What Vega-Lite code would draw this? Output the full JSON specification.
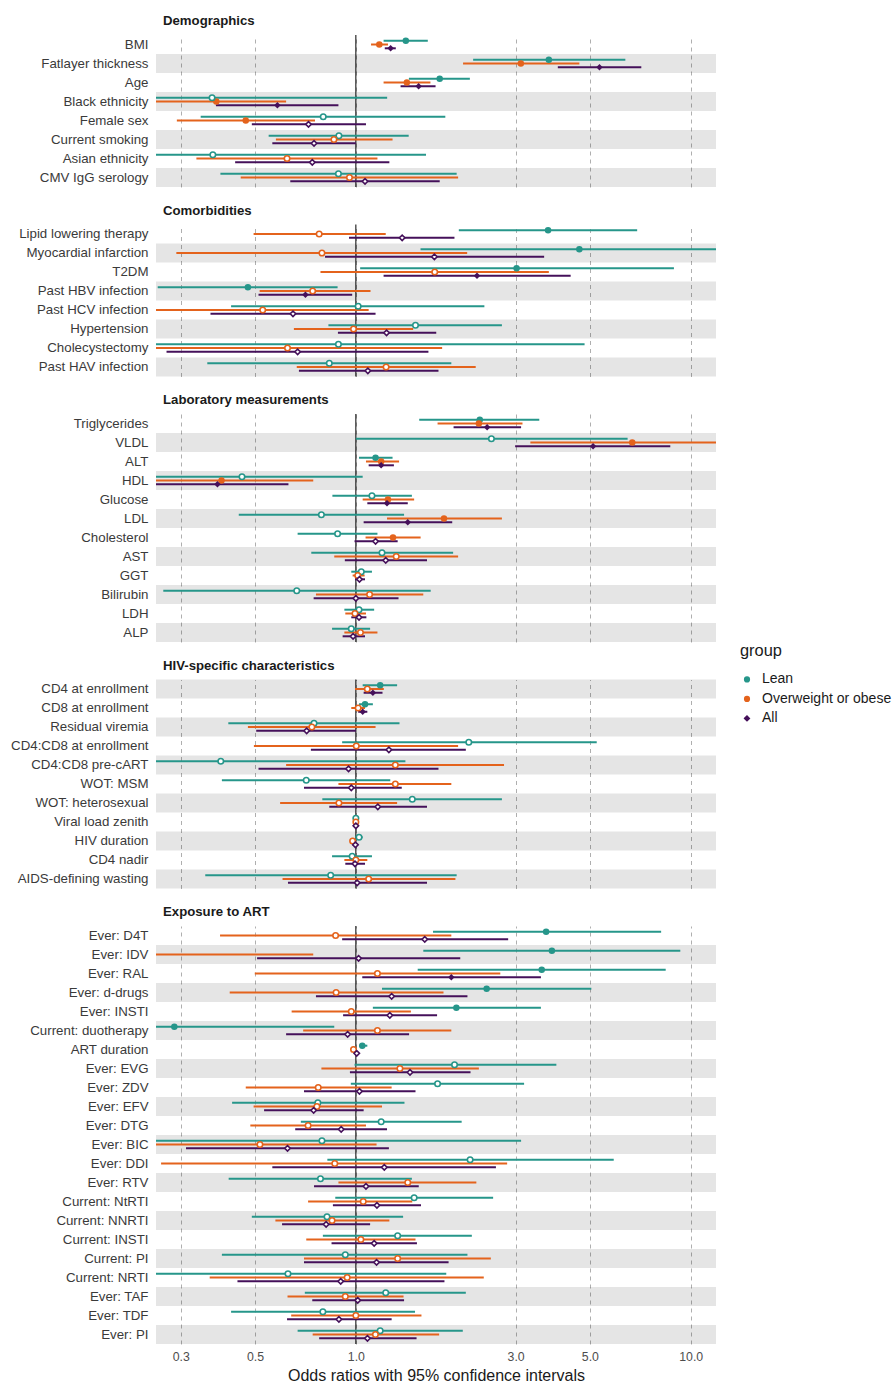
{
"$schema":"https://vega.github.io/schema/vega-lite/v6.json",
"padding":{"left":10,"top":14,"right":0,"bottom":2},
"background":"white",
"datasets":{"d":[
{"s":"Dem","v":"BMI","g":"Lean","or":1.41,"lo":1.21,"hi":1.64,"sig":true},
{"s":"Dem","v":"BMI","g":"Overweight or obese","or":1.175,"lo":1.11,"hi":1.247,"sig":true},
{"s":"Dem","v":"BMI","g":"All","or":1.27,"lo":1.22,"hi":1.316,"sig":true},
{"s":"Dem","v":"Fatlayer thickness","g":"Lean","or":3.77,"lo":2.24,"hi":6.38,"sig":true},
{"s":"Dem","v":"Fatlayer thickness","g":"Overweight or obese","or":3.11,"lo":2.09,"hi":4.65,"sig":true},
{"s":"Dem","v":"Fatlayer thickness","g":"All","or":5.34,"lo":4.01,"hi":7.12,"sig":true},
{"s":"Dem","v":"Age","g":"Lean","or":1.78,"lo":1.44,"hi":2.19,"sig":true},
{"s":"Dem","v":"Age","g":"Overweight or obese","or":1.42,"lo":1.21,"hi":1.67,"sig":true},
{"s":"Dem","v":"Age","g":"All","or":1.54,"lo":1.36,"hi":1.73,"sig":true},
{"s":"Dem","v":"Black ethnicity","g":"Lean","or":0.372,"lo":0.2,"hi":1.24,"sig":false},
{"s":"Dem","v":"Black ethnicity","g":"Overweight or obese","or":0.383,"lo":0.2,"hi":0.619,"sig":true},
{"s":"Dem","v":"Black ethnicity","g":"All","or":0.583,"lo":0.382,"hi":0.887,"sig":true},
{"s":"Dem","v":"Female sex","g":"Lean","or":0.799,"lo":0.344,"hi":1.85,"sig":false},
{"s":"Dem","v":"Female sex","g":"Overweight or obese","or":0.469,"lo":0.292,"hi":0.755,"sig":true},
{"s":"Dem","v":"Female sex","g":"All","or":0.722,"lo":0.489,"hi":1.072,"sig":false},
{"s":"Dem","v":"Current smoking","g":"Lean","or":0.89,"lo":0.549,"hi":1.438,"sig":false},
{"s":"Dem","v":"Current smoking","g":"Overweight or obese","or":0.86,"lo":0.577,"hi":1.287,"sig":false},
{"s":"Dem","v":"Current smoking","g":"All","or":0.75,"lo":0.563,"hi":1.0,"sig":false},
{"s":"Dem","v":"Asian ethnicity","g":"Lean","or":0.374,"lo":0.2,"hi":1.62,"sig":false},
{"s":"Dem","v":"Asian ethnicity","g":"Overweight or obese","or":0.623,"lo":0.334,"hi":1.16,"sig":false},
{"s":"Dem","v":"Asian ethnicity","g":"All","or":0.741,"lo":0.436,"hi":1.259,"sig":false},
{"s":"Dem","v":"CMV IgG serology","g":"Lean","or":0.887,"lo":0.394,"hi":2.0,"sig":false},
{"s":"Dem","v":"CMV IgG serology","g":"Overweight or obese","or":0.957,"lo":0.453,"hi":2.02,"sig":false},
{"s":"Dem","v":"CMV IgG serology","g":"All","or":1.065,"lo":0.637,"hi":1.78,"sig":false},
{"s":"Com","v":"Lipid lowering therapy","g":"Lean","or":3.75,"lo":2.03,"hi":6.92,"sig":true},
{"s":"Com","v":"Lipid lowering therapy","g":"Overweight or obese","or":0.777,"lo":0.495,"hi":1.228,"sig":false},
{"s":"Com","v":"Lipid lowering therapy","g":"All","or":1.375,"lo":0.954,"hi":1.97,"sig":false},
{"s":"Com","v":"Myocardial infarction","g":"Lean","or":4.65,"lo":1.56,"hi":15,"sig":true},
{"s":"Com","v":"Myocardial infarction","g":"Overweight or obese","or":0.792,"lo":0.291,"hi":2.15,"sig":false},
{"s":"Com","v":"Myocardial infarction","g":"All","or":1.716,"lo":0.809,"hi":3.65,"sig":false},
{"s":"Com","v":"T2DM","g":"Lean","or":3.02,"lo":1.03,"hi":8.91,"sig":true},
{"s":"Com","v":"T2DM","g":"Overweight or obese","or":1.72,"lo":0.784,"hi":3.77,"sig":false},
{"s":"Com","v":"T2DM","g":"All","or":2.3,"lo":1.21,"hi":4.38,"sig":true},
{"s":"Com","v":"Past HBV infection","g":"Lean","or":0.476,"lo":0.256,"hi":0.882,"sig":true},
{"s":"Com","v":"Past HBV infection","g":"Overweight or obese","or":0.743,"lo":0.516,"hi":1.106,"sig":false},
{"s":"Com","v":"Past HBV infection","g":"All","or":0.707,"lo":0.512,"hi":0.975,"sig":true},
{"s":"Com","v":"Past HCV infection","g":"Lean","or":1.016,"lo":0.424,"hi":2.42,"sig":false},
{"s":"Com","v":"Past HCV infection","g":"Overweight or obese","or":0.527,"lo":0.2,"hi":1.092,"sig":false},
{"s":"Com","v":"Past HCV infection","g":"All","or":0.649,"lo":0.368,"hi":1.145,"sig":false},
{"s":"Com","v":"Hypertension","g":"Lean","or":1.507,"lo":0.828,"hi":2.73,"sig":false},
{"s":"Com","v":"Hypertension","g":"Overweight or obese","or":0.984,"lo":0.653,"hi":1.483,"sig":false},
{"s":"Com","v":"Hypertension","g":"All","or":1.235,"lo":0.884,"hi":1.738,"sig":false},
{"s":"Com","v":"Cholecystectomy","g":"Lean","or":0.887,"lo":0.2,"hi":4.82,"sig":false},
{"s":"Com","v":"Cholecystectomy","g":"Overweight or obese","or":0.625,"lo":0.2,"hi":1.81,"sig":false},
{"s":"Com","v":"Cholecystectomy","g":"All","or":0.67,"lo":0.272,"hi":1.647,"sig":false},
{"s":"Com","v":"Past HAV infection","g":"Lean","or":0.833,"lo":0.36,"hi":1.928,"sig":false},
{"s":"Com","v":"Past HAV infection","g":"Overweight or obese","or":1.231,"lo":0.666,"hi":2.28,"sig":false},
{"s":"Com","v":"Past HAV infection","g":"All","or":1.086,"lo":0.676,"hi":1.765,"sig":false},
{"s":"Lab","v":"Triglycerides","g":"Lean","or":2.345,"lo":1.546,"hi":3.53,"sig":true},
{"s":"Lab","v":"Triglycerides","g":"Overweight or obese","or":2.33,"lo":1.754,"hi":3.145,"sig":true},
{"s":"Lab","v":"Triglycerides","g":"All","or":2.466,"lo":1.958,"hi":3.115,"sig":true},
{"s":"Lab","v":"VLDL","g":"Lean","or":2.54,"lo":1.0,"hi":6.48,"sig":false},
{"s":"Lab","v":"VLDL","g":"Overweight or obese","or":6.69,"lo":3.32,"hi":15,"sig":true},
{"s":"Lab","v":"VLDL","g":"All","or":5.11,"lo":2.99,"hi":8.69,"sig":true},
{"s":"Lab","v":"ALT","g":"Lean","or":1.145,"lo":1.022,"hi":1.287,"sig":true},
{"s":"Lab","v":"ALT","g":"Overweight or obese","or":1.19,"lo":1.072,"hi":1.346,"sig":true},
{"s":"Lab","v":"ALT","g":"All","or":1.19,"lo":1.092,"hi":1.299,"sig":true},
{"s":"Lab","v":"HDL","g":"Lean","or":0.457,"lo":0.2,"hi":1.048,"sig":false},
{"s":"Lab","v":"HDL","g":"Overweight or obese","or":0.397,"lo":0.2,"hi":0.746,"sig":true},
{"s":"Lab","v":"HDL","g":"All","or":0.386,"lo":0.2,"hi":0.629,"sig":true},
{"s":"Lab","v":"Glucose","g":"Lean","or":1.117,"lo":0.851,"hi":1.47,"sig":false},
{"s":"Lab","v":"Glucose","g":"Overweight or obese","or":1.247,"lo":1.048,"hi":1.493,"sig":true},
{"s":"Lab","v":"Glucose","g":"All","or":1.239,"lo":1.082,"hi":1.429,"sig":true},
{"s":"Lab","v":"LDL","g":"Lean","or":0.789,"lo":0.447,"hi":1.393,"sig":false},
{"s":"Lab","v":"LDL","g":"Overweight or obese","or":1.833,"lo":1.239,"hi":2.73,"sig":true},
{"s":"Lab","v":"LDL","g":"All","or":1.429,"lo":1.055,"hi":1.94,"sig":true},
{"s":"Lab","v":"Cholesterol","g":"Lean","or":0.882,"lo":0.67,"hi":1.16,"sig":false},
{"s":"Lab","v":"Cholesterol","g":"Overweight or obese","or":1.291,"lo":1.069,"hi":1.561,"sig":true},
{"s":"Lab","v":"Cholesterol","g":"All","or":1.145,"lo":0.991,"hi":1.333,"sig":false},
{"s":"Lab","v":"AST","g":"Lean","or":1.197,"lo":0.736,"hi":1.952,"sig":false},
{"s":"Lab","v":"AST","g":"Overweight or obese","or":1.32,"lo":0.862,"hi":2.02,"sig":false},
{"s":"Lab","v":"AST","g":"All","or":1.228,"lo":0.927,"hi":1.631,"sig":false},
{"s":"Lab","v":"GGT","g":"Lean","or":1.038,"lo":0.969,"hi":1.117,"sig":false},
{"s":"Lab","v":"GGT","g":"Overweight or obese","or":1.013,"lo":0.978,"hi":1.062,"sig":false},
{"s":"Lab","v":"GGT","g":"All","or":1.025,"lo":0.994,"hi":1.065,"sig":false},
{"s":"Lab","v":"Bilirubin","g":"Lean","or":0.666,"lo":0.266,"hi":1.673,"sig":false},
{"s":"Lab","v":"Bilirubin","g":"Overweight or obese","or":1.099,"lo":0.76,"hi":1.59,"sig":false},
{"s":"Lab","v":"Bilirubin","g":"All","or":1.0,"lo":0.748,"hi":1.341,"sig":false},
{"s":"Lab","v":"LDH","g":"Lean","or":1.022,"lo":0.924,"hi":1.134,"sig":false},
{"s":"Lab","v":"LDH","g":"Overweight or obese","or":0.994,"lo":0.93,"hi":1.072,"sig":false},
{"s":"Lab","v":"LDH","g":"All","or":1.022,"lo":0.969,"hi":1.075,"sig":false},
{"s":"Lab","v":"ALP","g":"Lean","or":0.969,"lo":0.849,"hi":1.103,"sig":false},
{"s":"Lab","v":"ALP","g":"Overweight or obese","or":1.032,"lo":0.924,"hi":1.16,"sig":false},
{"s":"Lab","v":"ALP","g":"All","or":0.981,"lo":0.913,"hi":1.065,"sig":false},
{"s":"HIV","v":"CD4 at enrollment","g":"Lean","or":1.182,"lo":1.048,"hi":1.328,"sig":true},
{"s":"HIV","v":"CD4 at enrollment","g":"Overweight or obese","or":1.082,"lo":0.994,"hi":1.212,"sig":false},
{"s":"HIV","v":"CD4 at enrollment","g":"All","or":1.124,"lo":1.055,"hi":1.201,"sig":true},
{"s":"HIV","v":"CD8 at enrollment","g":"Lean","or":1.065,"lo":1.022,"hi":1.124,"sig":true},
{"s":"HIV","v":"CD8 at enrollment","g":"Overweight or obese","or":1.016,"lo":0.969,"hi":1.065,"sig":false},
{"s":"HIV","v":"CD8 at enrollment","g":"All","or":1.048,"lo":1.016,"hi":1.082,"sig":true},
{"s":"HIV","v":"Residual viremia","g":"Lean","or":0.75,"lo":0.416,"hi":1.35,"sig":false},
{"s":"HIV","v":"Residual viremia","g":"Overweight or obese","or":0.739,"lo":0.476,"hi":1.145,"sig":false},
{"s":"HIV","v":"Residual viremia","g":"All","or":0.713,"lo":0.504,"hi":1.0,"sig":false},
{"s":"HIV","v":"CD4:CD8 at enrollment","g":"Lean","or":2.174,"lo":0.91,"hi":5.24,"sig":false},
{"s":"HIV","v":"CD4:CD8 at enrollment","g":"Overweight or obese","or":1.003,"lo":0.496,"hi":2.02,"sig":false},
{"s":"HIV","v":"CD4:CD8 at enrollment","g":"All","or":1.255,"lo":0.734,"hi":2.13,"sig":false},
{"s":"HIV","v":"CD4:CD8 pre-cART","g":"Lean","or":0.395,"lo":0.2,"hi":1.406,"sig":false},
{"s":"HIV","v":"CD4:CD8 pre-cART","g":"Overweight or obese","or":1.312,"lo":0.619,"hi":2.77,"sig":false},
{"s":"HIV","v":"CD4:CD8 pre-cART","g":"All","or":0.951,"lo":0.512,"hi":1.765,"sig":false},
{"s":"HIV","v":"WOT: MSM","g":"Lean","or":0.711,"lo":0.398,"hi":1.267,"sig":false},
{"s":"HIV","v":"WOT: MSM","g":"Overweight or obese","or":1.312,"lo":0.887,"hi":1.928,"sig":false},
{"s":"HIV","v":"WOT: MSM","g":"All","or":0.969,"lo":0.7,"hi":1.371,"sig":false},
{"s":"HIV","v":"WOT: heterosexual","g":"Lean","or":1.474,"lo":0.794,"hi":2.73,"sig":false},
{"s":"HIV","v":"WOT: heterosexual","g":"Overweight or obese","or":0.89,"lo":0.594,"hi":1.328,"sig":false},
{"s":"HIV","v":"WOT: heterosexual","g":"All","or":1.163,"lo":0.833,"hi":1.631,"sig":false},
{"s":"HIV","v":"Viral load zenith","g":"Lean","or":1.0,"lo":0.995,"hi":1.005,"sig":false},
{"s":"HIV","v":"Viral load zenith","g":"Overweight or obese","or":1.0,"lo":0.995,"hi":1.005,"sig":false},
{"s":"HIV","v":"Viral load zenith","g":"All","or":1.0,"lo":0.995,"hi":1.005,"sig":false},
{"s":"HIV","v":"HIV duration","g":"Lean","or":1.022,"lo":0.998,"hi":1.048,"sig":false},
{"s":"HIV","v":"HIV duration","g":"Overweight or obese","or":0.978,"lo":0.96,"hi":1.0,"sig":false},
{"s":"HIV","v":"HIV duration","g":"All","or":0.997,"lo":0.978,"hi":1.016,"sig":false},
{"s":"HIV","v":"CD4 nadir","g":"Lean","or":0.975,"lo":0.849,"hi":1.117,"sig":false},
{"s":"HIV","v":"CD4 nadir","g":"Overweight or obese","or":1.0,"lo":0.924,"hi":1.082,"sig":false},
{"s":"HIV","v":"CD4 nadir","g":"All","or":0.994,"lo":0.93,"hi":1.065,"sig":false},
{"s":"HIV","v":"AIDS-defining wasting","g":"Lean","or":0.841,"lo":0.355,"hi":2.0,"sig":false},
{"s":"HIV","v":"AIDS-defining wasting","g":"Overweight or obese","or":1.092,"lo":0.604,"hi":1.983,"sig":false},
{"s":"HIV","v":"AIDS-defining wasting","g":"All","or":1.009,"lo":0.627,"hi":1.631,"sig":false},
{"s":"ART","v":"Ever: D4T","g":"Lean","or":3.7,"lo":1.7,"hi":8.16,"sig":true},
{"s":"ART","v":"Ever: D4T","g":"Overweight or obese","or":0.87,"lo":0.393,"hi":1.928,"sig":false},
{"s":"ART","v":"Ever: D4T","g":"All","or":1.606,"lo":0.91,"hi":2.85,"sig":false},
{"s":"ART","v":"Ever: IDV","g":"Lean","or":3.85,"lo":1.59,"hi":9.31,"sig":true},
{"s":"ART","v":"Ever: IDV","g":"Overweight or obese","or":0.22,"lo":0.05,"hi":0.746,"sig":false},
{"s":"ART","v":"Ever: IDV","g":"All","or":1.019,"lo":0.507,"hi":2.05,"sig":false},
{"s":"ART","v":"Ever: RAL","g":"Lean","or":3.59,"lo":1.53,"hi":8.42,"sig":true},
{"s":"ART","v":"Ever: RAL","g":"Overweight or obese","or":1.16,"lo":0.499,"hi":2.7,"sig":false},
{"s":"ART","v":"Ever: RAL","g":"All","or":1.928,"lo":1.045,"hi":3.57,"sig":true},
{"s":"ART","v":"Ever: d-drugs","g":"Lean","or":2.458,"lo":1.197,"hi":5.05,"sig":true},
{"s":"ART","v":"Ever: d-drugs","g":"Overweight or obese","or":0.873,"lo":0.42,"hi":1.827,"sig":false},
{"s":"ART","v":"Ever: d-drugs","g":"All","or":1.279,"lo":0.76,"hi":2.154,"sig":false},
{"s":"ART","v":"Ever: INSTI","g":"Lean","or":1.996,"lo":1.124,"hi":3.57,"sig":true},
{"s":"ART","v":"Ever: INSTI","g":"Overweight or obese","or":0.969,"lo":0.643,"hi":1.46,"sig":false},
{"s":"ART","v":"Ever: INSTI","g":"All","or":1.263,"lo":0.916,"hi":1.748,"sig":false},
{"s":"ART","v":"Current: duotherapy","g":"Lean","or":0.287,"lo":0.2,"hi":0.862,"sig":true},
{"s":"ART","v":"Current: duotherapy","g":"Overweight or obese","or":1.16,"lo":0.696,"hi":1.928,"sig":false},
{"s":"ART","v":"Current: duotherapy","g":"All","or":0.945,"lo":0.619,"hi":1.442,"sig":false},
{"s":"ART","v":"ART duration","g":"Lean","or":1.045,"lo":1.022,"hi":1.082,"sig":true},
{"s":"ART","v":"ART duration","g":"Overweight or obese","or":0.984,"lo":0.969,"hi":1.003,"sig":false},
{"s":"ART","v":"ART duration","g":"All","or":1.006,"lo":0.991,"hi":1.022,"sig":false},
{"s":"ART","v":"Ever: EVG","g":"Lean","or":1.971,"lo":0.991,"hi":3.97,"sig":false},
{"s":"ART","v":"Ever: EVG","g":"Overweight or obese","or":1.354,"lo":0.789,"hi":2.33,"sig":false},
{"s":"ART","v":"Ever: EVG","g":"All","or":1.451,"lo":0.96,"hi":2.2,"sig":false},
{"s":"ART","v":"Ever: ZDV","g":"Lean","or":1.754,"lo":0.966,"hi":3.18,"sig":false},
{"s":"ART","v":"Ever: ZDV","g":"Overweight or obese","or":0.772,"lo":0.469,"hi":1.279,"sig":false},
{"s":"ART","v":"Ever: ZDV","g":"All","or":1.025,"lo":0.7,"hi":1.507,"sig":false},
{"s":"ART","v":"Ever: EFV","g":"Lean","or":0.77,"lo":0.427,"hi":1.397,"sig":false},
{"s":"ART","v":"Ever: EFV","g":"Overweight or obese","or":0.765,"lo":0.495,"hi":1.197,"sig":false},
{"s":"ART","v":"Ever: EFV","g":"All","or":0.748,"lo":0.532,"hi":1.055,"sig":false},
{"s":"ART","v":"Ever: DTG","g":"Lean","or":1.19,"lo":0.685,"hi":2.07,"sig":false},
{"s":"ART","v":"Ever: DTG","g":"Overweight or obese","or":0.72,"lo":0.484,"hi":1.072,"sig":false},
{"s":"ART","v":"Ever: DTG","g":"All","or":0.904,"lo":0.659,"hi":1.239,"sig":false},
{"s":"ART","v":"Ever: BIC","g":"Lean","or":0.792,"lo":0.2,"hi":3.115,"sig":false},
{"s":"ART","v":"Ever: BIC","g":"Overweight or obese","or":0.517,"lo":0.2,"hi":1.153,"sig":false},
{"s":"ART","v":"Ever: BIC","g":"All","or":0.625,"lo":0.311,"hi":1.255,"sig":false},
{"s":"ART","v":"Ever: DDI","g":"Lean","or":2.194,"lo":0.822,"hi":5.89,"sig":false},
{"s":"ART","v":"Ever: DDI","g":"Overweight or obese","or":0.865,"lo":0.262,"hi":2.83,"sig":false},
{"s":"ART","v":"Ever: DDI","g":"All","or":1.216,"lo":0.563,"hi":2.62,"sig":false},
{"s":"ART","v":"Ever: RTV","g":"Lean","or":0.784,"lo":0.417,"hi":1.47,"sig":false},
{"s":"ART","v":"Ever: RTV","g":"Overweight or obese","or":1.429,"lo":0.887,"hi":2.29,"sig":false},
{"s":"ART","v":"Ever: RTV","g":"All","or":1.072,"lo":0.75,"hi":1.541,"sig":false},
{"s":"ART","v":"Current: NtRTI","g":"Lean","or":1.493,"lo":0.868,"hi":2.57,"sig":false},
{"s":"ART","v":"Current: NtRTI","g":"Overweight or obese","or":1.052,"lo":0.72,"hi":1.474,"sig":false},
{"s":"ART","v":"Current: NtRTI","g":"All","or":1.156,"lo":0.854,"hi":1.565,"sig":false},
{"s":"ART","v":"Current: NNRTI","g":"Lean","or":0.82,"lo":0.489,"hi":1.384,"sig":false},
{"s":"ART","v":"Current: NNRTI","g":"Overweight or obese","or":0.849,"lo":0.575,"hi":1.259,"sig":false},
{"s":"ART","v":"Current: NNRTI","g":"All","or":0.815,"lo":0.602,"hi":1.103,"sig":false},
{"s":"ART","v":"Current: INSTI","g":"Lean","or":1.333,"lo":0.797,"hi":2.22,"sig":false},
{"s":"ART","v":"Current: INSTI","g":"Overweight or obese","or":1.035,"lo":0.711,"hi":1.507,"sig":false},
{"s":"ART","v":"Current: INSTI","g":"All","or":1.134,"lo":0.846,"hi":1.522,"sig":false},
{"s":"ART","v":"Current: PI","g":"Lean","or":0.93,"lo":0.398,"hi":2.154,"sig":false},
{"s":"ART","v":"Current: PI","g":"Overweight or obese","or":1.333,"lo":0.7,"hi":2.53,"sig":false},
{"s":"ART","v":"Current: PI","g":"All","or":1.153,"lo":0.7,"hi":1.892,"sig":false},
{"s":"ART","v":"Current: NRTI","g":"Lean","or":0.627,"lo":0.2,"hi":1.862,"sig":false},
{"s":"ART","v":"Current: NRTI","g":"Overweight or obese","or":0.942,"lo":0.366,"hi":2.41,"sig":false},
{"s":"ART","v":"Current: NRTI","g":"All","or":0.901,"lo":0.443,"hi":1.839,"sig":false},
{"s":"ART","v":"Ever: TAF","g":"Lean","or":1.228,"lo":0.704,"hi":2.13,"sig":false},
{"s":"ART","v":"Ever: TAF","g":"Overweight or obese","or":0.93,"lo":0.625,"hi":1.388,"sig":false},
{"s":"ART","v":"Ever: TAF","g":"All","or":1.013,"lo":0.741,"hi":1.393,"sig":false},
{"s":"ART","v":"Ever: TDF","g":"Lean","or":0.797,"lo":0.424,"hi":1.502,"sig":false},
{"s":"ART","v":"Ever: TDF","g":"Overweight or obese","or":1.0,"lo":0.641,"hi":1.57,"sig":false},
{"s":"ART","v":"Ever: TDF","g":"All","or":0.89,"lo":0.623,"hi":1.279,"sig":false},
{"s":"ART","v":"Ever: PI","g":"Lean","or":1.182,"lo":0.67,"hi":2.086,"sig":false},
{"s":"ART","v":"Ever: PI","g":"Overweight or obese","or":1.144,"lo":0.743,"hi":1.773,"sig":false},
{"s":"ART","v":"Ever: PI","g":"All","or":1.083,"lo":0.777,"hi":1.518,"sig":false}
]},
"data":{"name":"d"},
"vconcat":[
{"title":"Demographics","width":560,"height":{"step":19,"for":"position"},
 "transform":[{"filter":"datum.s==='Dem'"}],
 "layer":[
  {"transform":[{"filter":"datum.g==='All'"},{"window":[{"op":"row_number","as":"rn"}]},{"joinaggregate":[{"op":"count","as":"n"}]},{"filter":"(datum.n-datum.rn)%2===0"}],
   "mark":{"type":"rect","color":"#000000","opacity":0.1},
   "encoding":{"y":{"field":"v","type":"nominal","title":null,"scale":{"type":"band","domain":["BMI","Fatlayer thickness","Age","Black ethnicity","Female sex","Current smoking","Asian ethnicity","CMV IgG serology"],"paddingInner":0,"paddingOuter":0}},
    "x":{"datum":0.253,"type":"quantitative","title":null,"scale":{"type":"log","domain":[0.253,11.9],"nice":false},"axis":{"labels":false,"title":null,"values":[0.3,0.5,1,3,5,10]}},"x2":{"datum":11.9}}},
  {"data":{"values":[{}]},"mark":{"type":"rule","color":"#000000","strokeWidth":1},"encoding":{"x":{"datum":1,"type":"quantitative","title":null}}},
  {"mark":{"type":"rule","strokeWidth":2,"clip":true},
   "encoding":{"y":{"field":"v","type":"nominal","title":null},"yOffset":{"field":"g","type":"nominal","scale":{"domain":["Lean","Overweight or obese","All"],"paddingInner":0,"paddingOuter":1.14}},
    "x":{"field":"lo","type":"quantitative","title":null},"x2":{"field":"hi"},
    "color":{"field":"g","type":"nominal","title":"group","scale":{"domain":["Lean","Overweight or obese","All"],"range":["#26968A","#E4631C","#45105A"]}}}},
  {"transform":[{"filter":"datum.sig"}],"mark":{"type":"point","filled":true,"size":42,"opacity":1,"clip":true},
   "encoding":{"y":{"field":"v","type":"nominal","title":null},"yOffset":{"field":"g","type":"nominal"},
    "x":{"field":"or","type":"quantitative","title":null},
    "color":{"field":"g","type":"nominal","title":"group"},
    "shape":{"field":"g","type":"nominal","title":"group","scale":{"domain":["Lean","Overweight or obese","All"],"range":["circle","circle","diamond"]}}}},
  {"transform":[{"filter":"!datum.sig"}],"mark":{"type":"point","filled":false,"fill":"white","size":30,"strokeWidth":1.6,"opacity":1,"clip":true},
   "encoding":{"y":{"field":"v","type":"nominal","title":null},"yOffset":{"field":"g","type":"nominal"},
    "x":{"field":"or","type":"quantitative","title":null},
    "color":{"field":"g","type":"nominal","title":"group"},
    "shape":{"field":"g","type":"nominal","title":"group"}}}
 ]},
{"title":"Comorbidities","width":560,"height":{"step":19,"for":"position"},
 "transform":[{"filter":"datum.s==='Com'"}],
 "layer":[
  {"transform":[{"filter":"datum.g==='All'"},{"window":[{"op":"row_number","as":"rn"}]},{"joinaggregate":[{"op":"count","as":"n"}]},{"filter":"(datum.n-datum.rn)%2===0"}],
   "mark":{"type":"rect","color":"#000000","opacity":0.1},
   "encoding":{"y":{"field":"v","type":"nominal","title":null,"scale":{"type":"band","domain":["Lipid lowering therapy","Myocardial infarction","T2DM","Past HBV infection","Past HCV infection","Hypertension","Cholecystectomy","Past HAV infection"],"paddingInner":0,"paddingOuter":0}},
    "x":{"datum":0.253,"type":"quantitative","title":null,"scale":{"type":"log","domain":[0.253,11.9],"nice":false},"axis":{"labels":false,"title":null,"values":[0.3,0.5,1,3,5,10]}},"x2":{"datum":11.9}}},
  {"data":{"values":[{}]},"mark":{"type":"rule","color":"#000000","strokeWidth":1},"encoding":{"x":{"datum":1,"type":"quantitative","title":null}}},
  {"mark":{"type":"rule","strokeWidth":2,"clip":true},
   "encoding":{"y":{"field":"v","type":"nominal","title":null},"yOffset":{"field":"g","type":"nominal"},
    "x":{"field":"lo","type":"quantitative","title":null},"x2":{"field":"hi"},
    "color":{"field":"g","type":"nominal","title":"group"}}},
  {"transform":[{"filter":"datum.sig"}],"mark":{"type":"point","filled":true,"size":42,"opacity":1,"clip":true},
   "encoding":{"y":{"field":"v","type":"nominal","title":null},"yOffset":{"field":"g","type":"nominal"},
    "x":{"field":"or","type":"quantitative","title":null},
    "color":{"field":"g","type":"nominal","title":"group"},"shape":{"field":"g","type":"nominal","title":"group"}}},
  {"transform":[{"filter":"!datum.sig"}],"mark":{"type":"point","filled":false,"fill":"white","size":30,"strokeWidth":1.6,"opacity":1,"clip":true},
   "encoding":{"y":{"field":"v","type":"nominal","title":null},"yOffset":{"field":"g","type":"nominal"},
    "x":{"field":"or","type":"quantitative","title":null},
    "color":{"field":"g","type":"nominal","title":"group"},"shape":{"field":"g","type":"nominal","title":"group"}}}
 ]},
{"title":"Laboratory measurements","width":560,"height":{"step":19,"for":"position"},
 "transform":[{"filter":"datum.s==='Lab'"}],
 "layer":[
  {"transform":[{"filter":"datum.g==='All'"},{"window":[{"op":"row_number","as":"rn"}]},{"joinaggregate":[{"op":"count","as":"n"}]},{"filter":"(datum.n-datum.rn)%2===0"}],
   "mark":{"type":"rect","color":"#000000","opacity":0.1},
   "encoding":{"y":{"field":"v","type":"nominal","title":null,"scale":{"type":"band","domain":["Triglycerides","VLDL","ALT","HDL","Glucose","LDL","Cholesterol","AST","GGT","Bilirubin","LDH","ALP"],"paddingInner":0,"paddingOuter":0}},
    "x":{"datum":0.253,"type":"quantitative","title":null,"scale":{"type":"log","domain":[0.253,11.9],"nice":false},"axis":{"labels":false,"title":null,"values":[0.3,0.5,1,3,5,10]}},"x2":{"datum":11.9}}},
  {"data":{"values":[{}]},"mark":{"type":"rule","color":"#000000","strokeWidth":1},"encoding":{"x":{"datum":1,"type":"quantitative","title":null}}},
  {"mark":{"type":"rule","strokeWidth":2,"clip":true},
   "encoding":{"y":{"field":"v","type":"nominal","title":null},"yOffset":{"field":"g","type":"nominal"},
    "x":{"field":"lo","type":"quantitative","title":null},"x2":{"field":"hi"},
    "color":{"field":"g","type":"nominal","title":"group"}}},
  {"transform":[{"filter":"datum.sig"}],"mark":{"type":"point","filled":true,"size":42,"opacity":1,"clip":true},
   "encoding":{"y":{"field":"v","type":"nominal","title":null},"yOffset":{"field":"g","type":"nominal"},
    "x":{"field":"or","type":"quantitative","title":null},
    "color":{"field":"g","type":"nominal","title":"group"},"shape":{"field":"g","type":"nominal","title":"group"}}},
  {"transform":[{"filter":"!datum.sig"}],"mark":{"type":"point","filled":false,"fill":"white","size":30,"strokeWidth":1.6,"opacity":1,"clip":true},
   "encoding":{"y":{"field":"v","type":"nominal","title":null},"yOffset":{"field":"g","type":"nominal"},
    "x":{"field":"or","type":"quantitative","title":null},
    "color":{"field":"g","type":"nominal","title":"group"},"shape":{"field":"g","type":"nominal","title":"group"}}}
 ]},
{"title":"HIV-specific characteristics","width":560,"height":{"step":19,"for":"position"},
 "transform":[{"filter":"datum.s==='HIV'"}],
 "layer":[
  {"transform":[{"filter":"datum.g==='All'"},{"window":[{"op":"row_number","as":"rn"}]},{"joinaggregate":[{"op":"count","as":"n"}]},{"filter":"(datum.n-datum.rn)%2===0"}],
   "mark":{"type":"rect","color":"#000000","opacity":0.1},
   "encoding":{"y":{"field":"v","type":"nominal","title":null,"scale":{"type":"band","domain":["CD4 at enrollment","CD8 at enrollment","Residual viremia","CD4:CD8 at enrollment","CD4:CD8 pre-cART","WOT: MSM","WOT: heterosexual","Viral load zenith","HIV duration","CD4 nadir","AIDS-defining wasting"],"paddingInner":0,"paddingOuter":0}},
    "x":{"datum":0.253,"type":"quantitative","title":null,"scale":{"type":"log","domain":[0.253,11.9],"nice":false},"axis":{"labels":false,"title":null,"values":[0.3,0.5,1,3,5,10]}},"x2":{"datum":11.9}}},
  {"data":{"values":[{}]},"mark":{"type":"rule","color":"#000000","strokeWidth":1},"encoding":{"x":{"datum":1,"type":"quantitative","title":null}}},
  {"mark":{"type":"rule","strokeWidth":2,"clip":true},
   "encoding":{"y":{"field":"v","type":"nominal","title":null},"yOffset":{"field":"g","type":"nominal"},
    "x":{"field":"lo","type":"quantitative","title":null},"x2":{"field":"hi"},
    "color":{"field":"g","type":"nominal","title":"group"}}},
  {"transform":[{"filter":"datum.sig"}],"mark":{"type":"point","filled":true,"size":42,"opacity":1,"clip":true},
   "encoding":{"y":{"field":"v","type":"nominal","title":null},"yOffset":{"field":"g","type":"nominal"},
    "x":{"field":"or","type":"quantitative","title":null},
    "color":{"field":"g","type":"nominal","title":"group"},"shape":{"field":"g","type":"nominal","title":"group"}}},
  {"transform":[{"filter":"!datum.sig"}],"mark":{"type":"point","filled":false,"fill":"white","size":30,"strokeWidth":1.6,"opacity":1,"clip":true},
   "encoding":{"y":{"field":"v","type":"nominal","title":null},"yOffset":{"field":"g","type":"nominal"},
    "x":{"field":"or","type":"quantitative","title":null},
    "color":{"field":"g","type":"nominal","title":"group"},"shape":{"field":"g","type":"nominal","title":"group"}}}
 ]},
{"title":"Exposure to ART","width":560,"height":{"step":19,"for":"position"},
 "transform":[{"filter":"datum.s==='ART'"}],
 "layer":[
  {"transform":[{"filter":"datum.g==='All'"},{"window":[{"op":"row_number","as":"rn"}]},{"joinaggregate":[{"op":"count","as":"n"}]},{"filter":"(datum.n-datum.rn)%2===0"}],
   "mark":{"type":"rect","color":"#000000","opacity":0.1},
   "encoding":{"y":{"field":"v","type":"nominal","title":null,"scale":{"type":"band","domain":["Ever: D4T","Ever: IDV","Ever: RAL","Ever: d-drugs","Ever: INSTI","Current: duotherapy","ART duration","Ever: EVG","Ever: ZDV","Ever: EFV","Ever: DTG","Ever: BIC","Ever: DDI","Ever: RTV","Current: NtRTI","Current: NNRTI","Current: INSTI","Current: PI","Current: NRTI","Ever: TAF","Ever: TDF","Ever: PI"],"paddingInner":0,"paddingOuter":0}},
    "x":{"datum":0.253,"type":"quantitative","title":"Odds ratios with 95% confidence intervals","scale":{"type":"log","domain":[0.253,11.9],"nice":false},"axis":{"values":[0.3,0.5,1,3,5,10],"format":".1f","title":"Odds ratios with 95% confidence intervals"}},"x2":{"datum":11.9}}},
  {"data":{"values":[{}]},"mark":{"type":"rule","color":"#000000","strokeWidth":1},"encoding":{"x":{"datum":1,"type":"quantitative","title":"Odds ratios with 95% confidence intervals"}}},
  {"mark":{"type":"rule","strokeWidth":2,"clip":true},
   "encoding":{"y":{"field":"v","type":"nominal","title":null},"yOffset":{"field":"g","type":"nominal"},
    "x":{"field":"lo","type":"quantitative","title":"Odds ratios with 95% confidence intervals"},"x2":{"field":"hi"},
    "color":{"field":"g","type":"nominal","title":"group"}}},
  {"transform":[{"filter":"datum.sig"}],"mark":{"type":"point","filled":true,"size":42,"opacity":1,"clip":true},
   "encoding":{"y":{"field":"v","type":"nominal","title":null},"yOffset":{"field":"g","type":"nominal"},
    "x":{"field":"or","type":"quantitative","title":"Odds ratios with 95% confidence intervals"},
    "color":{"field":"g","type":"nominal","title":"group"},"shape":{"field":"g","type":"nominal","title":"group"}}},
  {"transform":[{"filter":"!datum.sig"}],"mark":{"type":"point","filled":false,"fill":"white","size":30,"strokeWidth":1.6,"opacity":1,"clip":true},
   "encoding":{"y":{"field":"v","type":"nominal","title":null},"yOffset":{"field":"g","type":"nominal"},
    "x":{"field":"or","type":"quantitative","title":"Odds ratios with 95% confidence intervals"},
    "color":{"field":"g","type":"nominal","title":"group"},"shape":{"field":"g","type":"nominal","title":"group"}}}
 ]}
],
"config":{
 "font":"Liberation Sans",
 "view":{"stroke":null},
 "concat":{"spacing":15.5},
 "title":{"anchor":"start","frame":"group","fontSize":13.2,"fontWeight":"bold","color":"#1a1a1a","offset":6,"dx":7},
 "axisX":{"grid":true,"gridDash":[4,4],"gridColor":"#9a9a9a","gridWidth":0.8,"domain":false,"ticks":false,"labelFontSize":12.3,"labelColor":"#4d4d4d","labelPadding":6,"titleFontSize":16,"titleFontWeight":"normal","titleColor":"#1a1a1a","titlePadding":5},
 "axisY":{"domain":false,"ticks":false,"grid":false,"labelFontSize":13.3,"labelColor":"#3a3a3a","labelPadding":8,"labelLimit":300},
 "legend":{"orient":"none","legendX":584,"legendY":608,"titleFontSize":16.4,"titleFontWeight":"normal","titleColor":"#1a1a1a","labelFontSize":14,"labelColor":"#1a1a1a","symbolSize":22,"rowPadding":5.5,"titlePadding":13,"labelOffset":8}
}
}
